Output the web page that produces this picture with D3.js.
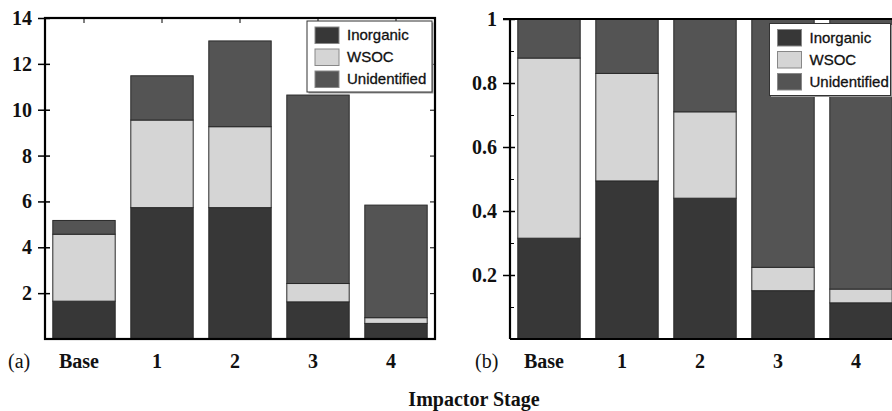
<!DOCTYPE html>
<html>
<head>
<meta charset="utf-8">
<script src="https://cdn.jsdelivr.net/npm/d3@7"></script>
<style>
  html, body { margin: 0; padding: 0; background: #fff; }
  svg { display: block; }
</style>
</head>
<body>
<svg id="chart" width="892" height="411"></svg>
<script>
// ---- data ----
const categories = ["Base", "1", "2", "3", "4"];
const seriesNames = ["Inorganic", "WSOC", "Unidentified"];
// Panel (a): absolute values
const inorganicA    = [1.65, 5.73, 5.73, 1.62, 0.68];
const wsocA         = [2.92, 3.82, 3.53, 0.80, 0.25];
const unidentifiedA = [0.60, 1.93, 3.74, 8.22, 4.91];
// Panel (b): fractions
const inorganicB    = [0.315, 0.494, 0.44, 0.151, 0.113];
const wsocB         = [0.563, 0.336, 0.27, 0.073, 0.043];
const unidentifiedB = [0.122, 0.170, 0.29, 0.776, 0.844];
const ticksA = [2, 4, 6, 8, 10, 12, 14];
const tickLabelsA = ["2", "4", "6", "8", "10", "12", "14"];
const ticksB = [0.2, 0.4, 0.6, 0.8, 1];
const tickLabelsB = ["0.2", "0.4", "0.6", "0.8", "1"];
const minorTicksB = [0.1, 0.3, 0.5, 0.7, 0.9];

const colors = { "Inorganic": "#373737", "WSOC": "#d5d5d5", "Unidentified": "#545454" };
const serif = "'Liberation Serif', 'Times New Roman', serif";
const sans = "'Liberation Sans', Arial, sans-serif";

const svg = d3.select("#chart");

function serifBold(sel, size) {
  sel.attr("font-family", serif).attr("font-weight", "bold").attr("font-size", size).attr("fill", "#111");
}

function buildRows(a, b, c) {
  return categories.map((cat, i) => ({ cat, Inorganic: a[i], WSOC: b[i], Unidentified: c[i] }));
}

function panel(opts) {
  const g = svg.append("g");
  const x = d3.scaleBand().domain(categories).range(opts.xRange).paddingInner(0.2).paddingOuter(0.1);
  const y = d3.scaleLinear().domain(opts.yDomain).range([339, opts.yTop]);
  const rows = buildRows(...opts.data);
  const stacked = d3.stack().keys(seriesNames)(rows);

  const clipId = "clip" + opts.name;
  svg.append("clipPath").attr("id", clipId).append("rect")
    .attr("x", opts.xRange[0]).attr("y", opts.yTop).attr("width", 892 - opts.xRange[0]).attr("height", 339 - opts.yTop);

  const bars = g.append("g").attr("clip-path", `url(#${clipId})`);
  stacked.forEach(s => {
    bars.selectAll(null).data(s).enter().append("rect")
      .attr("x", d => x(d.data.cat))
      .attr("y", d => y(d[1]))
      .attr("width", x.bandwidth())
      .attr("height", d => y(d[0]) - y(d[1]))
      .attr("fill", colors[s.key])
      .attr("stroke", "#2a2a2a")
      .attr("stroke-width", 1);
  });

  // left axis tick marks (crossing the axis line)
  const left = g.append("g").attr("transform", `translate(${opts.xRange[0]},0)`);
  left.call(d3.axisLeft(y).tickValues(opts.ticks).tickSize(7).tickFormat(""));
  left.select(".domain").remove();
  left.selectAll(".tick line").attr("x2", -7).attr("x1", 5).attr("stroke", "#000").attr("stroke-width", 1.5);
  // tick labels
  const lbl = g.append("g").selectAll("text").data(opts.ticks).enter().append("text")
    .attr("x", opts.xRange[0] - 13)
    .attr("y", d => y(d))
    .attr("dy", "0.35em")
    .attr("text-anchor", "end")
    .text((d, i) => opts.labels[i]);
  serifBold(lbl, 20);

  if (opts.minor) {
    g.append("g").attr("transform", `translate(${opts.xRange[0]},0)`)
      .call(d3.axisRight(y).tickValues(opts.minor).tickSize(4).tickFormat(""))
      .call(s => s.select(".domain").remove())
      .selectAll(".tick line").attr("stroke", "#000").attr("stroke-width", 1);
  }
  return { g, x, y };
}

// ---- Panel (a) ----
const A = panel({ name: "a", xRange: [45, 435], yDomain: [0, 14], yTop: 18,
  data: [inorganicA, wsocA, unidentifiedA], ticks: ticksA, labels: tickLabelsA });
// right ticks inward
A.g.append("g").attr("transform", "translate(435,0)")
  .call(d3.axisLeft(A.y).tickValues(ticksA).tickSize(5).tickFormat(""))
  .call(s => s.select(".domain").remove())
  .selectAll(".tick line").attr("stroke", "#000").attr("stroke-width", 1);
// top ticks inward
A.g.append("g").attr("transform", "translate(0,18)")
  .call(d3.axisBottom(A.x).tickSize(5).tickFormat(""))
  .call(s => s.select(".domain").remove())
  .selectAll(".tick line").attr("stroke", "#000").attr("stroke-width", 1);
// frame
A.g.append("rect").attr("x", 45).attr("y", 18).attr("width", 390).attr("height", 321)
  .attr("fill", "none").attr("stroke", "#000").attr("stroke-width", 2.2);

// ---- Panel (b) ----
const B = panel({ name: "b", xRange: [510, 900], yDomain: [0, 1], yTop: 19,
  data: [inorganicB, wsocB, unidentifiedB], ticks: ticksB, labels: tickLabelsB, minor: minorTicksB });
B.g.append("line").attr("x1", 503).attr("x2", 892).attr("y1", 19).attr("y2", 19).attr("stroke", "#000").attr("stroke-width", 2.2);
B.g.append("line").attr("x1", 510).attr("x2", 892).attr("y1", 339).attr("y2", 339).attr("stroke", "#000").attr("stroke-width", 2.2);
B.g.append("line").attr("x1", 510).attr("x2", 510).attr("y1", 19).attr("y2", 339).attr("stroke", "#000").attr("stroke-width", 2.2);

// ---- category labels ----
[[A, "(a)", 8], [B, "(b)", 475]].forEach(([P, tag, tx]) => {
  const t = svg.append("g").selectAll("text").data(categories).enter().append("text")
    .attr("x", d => P.x(d) + P.x.bandwidth() / 2 - 5)
    .attr("y", 368)
    .attr("text-anchor", "middle")
    .text(d => d);
  serifBold(t, 20);
  svg.append("text").attr("x", tx).attr("y", 368)
    .attr("font-family", serif).attr("font-size", 20).attr("fill", "#111").text(tag);
});

// ---- axis title ----
serifBold(svg.append("text").attr("x", 474).attr("y", 406).attr("text-anchor", "middle").text("Impactor Stage"), 20);

// ---- legends ----
function legend(x0, y0, w, h) {
  const lg = svg.append("g").attr("transform", `translate(${x0},${y0})`);
  lg.append("rect").attr("x", 1.5).attr("y", 1.5).attr("width", w).attr("height", h).attr("fill", "#999");
  lg.append("rect").attr("width", w).attr("height", h).attr("fill", "#fff").attr("stroke", "#333").attr("stroke-width", 1);
  seriesNames.forEach((n, i) => {
    lg.append("rect").attr("x", 8).attr("y", 6 + i * 22).attr("width", 24).attr("height", 16.5)
      .attr("fill", colors[n]).attr("stroke", "#888").attr("stroke-width", 1);
    lg.append("text").attr("x", 40).attr("y", 19 + i * 22)
      .attr("font-family", sans).attr("font-size", 15).attr("fill", "#111")
      .attr("stroke", "#111").attr("stroke-width", 0.3).text(n);
  });
}
legend(307, 21, 125, 71);
legend(769.5, 23.5, 121, 72);
</script>
</body>
</html>
